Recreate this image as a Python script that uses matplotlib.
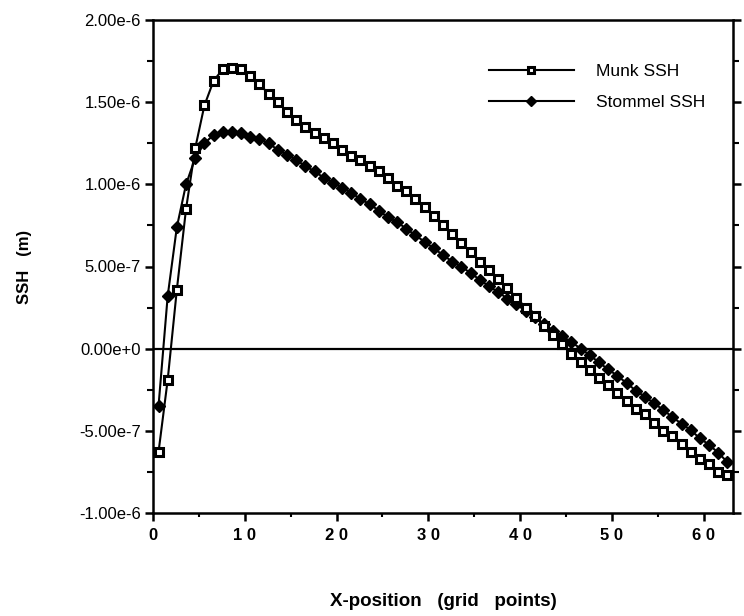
import numpy as np
import matplotlib
matplotlib.use("Agg")
import matplotlib.pyplot as plt
from matplotlib.ticker import FixedLocator, FixedFormatter, MultipleLocator

plt.rcParams['font.family'] = ['Liberation Sans', 'DejaVu Sans']

# grid positions (63 points)
x_grid = np.arange(63) + 0.6

munk_ssh = [
    -0.63, -0.19, 0.36, 0.85, 1.22, 1.48, 1.63, 1.70, 1.71, 1.70,
    1.66, 1.61, 1.55, 1.50, 1.44, 1.39, 1.35, 1.31, 1.28, 1.25,
    1.21, 1.17, 1.15, 1.11, 1.08, 1.04, 0.99, 0.96, 0.91, 0.86,
    0.81, 0.75, 0.70, 0.64, 0.59, 0.53, 0.48, 0.425, 0.37, 0.31,
    0.25, 0.20, 0.14, 0.085, 0.03, -0.03, -0.08, -0.13, -0.18, -0.22,
    -0.27, -0.32, -0.37, -0.40, -0.45, -0.50, -0.53, -0.58, -0.63, -0.67,
    -0.70, -0.75, -0.77,
]
stommel_ssh = [
    -0.35, 0.32, 0.74, 1.00, 1.16, 1.25, 1.30, 1.32, 1.32, 1.31,
    1.29, 1.275, 1.25, 1.21, 1.18, 1.15, 1.11, 1.08, 1.04, 1.01,
    0.98, 0.95, 0.91, 0.88, 0.84, 0.80, 0.77, 0.73, 0.69, 0.65,
    0.61, 0.57, 0.53, 0.50, 0.46, 0.42, 0.38, 0.345, 0.305, 0.27,
    0.23, 0.19, 0.15, 0.11, 0.075, 0.04, 0.0, -0.04, -0.084, -0.126,
    -0.165, -0.209, -0.255, -0.292, -0.332, -0.373, -0.417, -0.457, -0.496, -0.546,
    -0.585, -0.634, -0.691,
]
scale = 1e-6

y_ticks = [2.0e-6, 1.5e-6, 1.0e-6, 5.0e-7, 0.0, -5.0e-7, -1.0e-6]
y_tick_labels = ["2.00e-6", "1.50e-6", "1.00e-6", "5.00e-7", "0.00e+0", "-5.00e-7", "-1.00e-6"]
x_ticks = [0, 10, 20, 30, 40, 50, 60]
x_tick_labels = ["0", "1 0", "2 0", "3 0", "4 0", "5 0", "6 0"]

fig = plt.figure(figsize=(7.44, 6.16), dpi=100)
ax = fig.add_axes([153/744, 1 - 513/616, 580/744, 493/616])

munk = np.array(munk_ssh) * scale
stommel = np.array(stommel_ssh) * scale

ax.axhline(0, color='black', lw=1.6, zorder=1)
ax.plot(x_grid, munk, color='black', lw=1.5, marker='s', markersize=6.2,
        markerfacecolor='white', markeredgecolor='black', markeredgewidth=2.2,
        label='Munk SSH', zorder=3)
ax.plot(x_grid, stommel, color='black', lw=1.5, marker='D', markersize=6.5,
        markerfacecolor='black', markeredgecolor='black',
        label='Stommel SSH', zorder=2)

ax.set_xlim(0, 63.2)
ax.set_ylim(-1.0e-6, 2.0e-6)

ax.yaxis.set_major_locator(FixedLocator(y_ticks))
ax.yaxis.set_major_formatter(FixedFormatter(y_tick_labels))
ax.yaxis.set_minor_locator(MultipleLocator(2.5e-7))
ax.xaxis.set_major_locator(FixedLocator(x_ticks))
ax.xaxis.set_major_formatter(FixedFormatter(x_tick_labels))
ax.xaxis.set_minor_locator(MultipleLocator(5))

for s in ax.spines.values():
    s.set_linewidth(1.8)

ax.tick_params(axis='y', which='major', direction='out', length=6, width=1.8,
               labelsize=12, pad=3, right=True)
ax.tick_params(axis='y', which='minor', direction='out', length=4, width=1.5, right=True)
ax.tick_params(axis='x', which='major', direction='out', length=6, width=1.8,
               labelsize=12, pad=5)
ax.tick_params(axis='x', which='minor', direction='out', length=3, width=1.5)
for lab in ax.get_xticklabels():
    lab.set_fontweight('bold')

ax.set_xlabel("X-position   (grid   points)", fontsize=13.5, fontweight='bold', labelpad=36)
ax.set_ylabel("SSH   (m)", fontsize=12, fontweight='bold', labelpad=34)

ax.legend(loc='upper left', bbox_to_anchor=(480/744, 1 - 55/616),
          bbox_transform=fig.transFigure, frameon=False, fontsize=12.5,
          handlelength=4.9, handletextpad=1.3, labelspacing=0.95, borderpad=0,
          markerscale=0.8)

fig.savefig("out.png", dpi=100)
